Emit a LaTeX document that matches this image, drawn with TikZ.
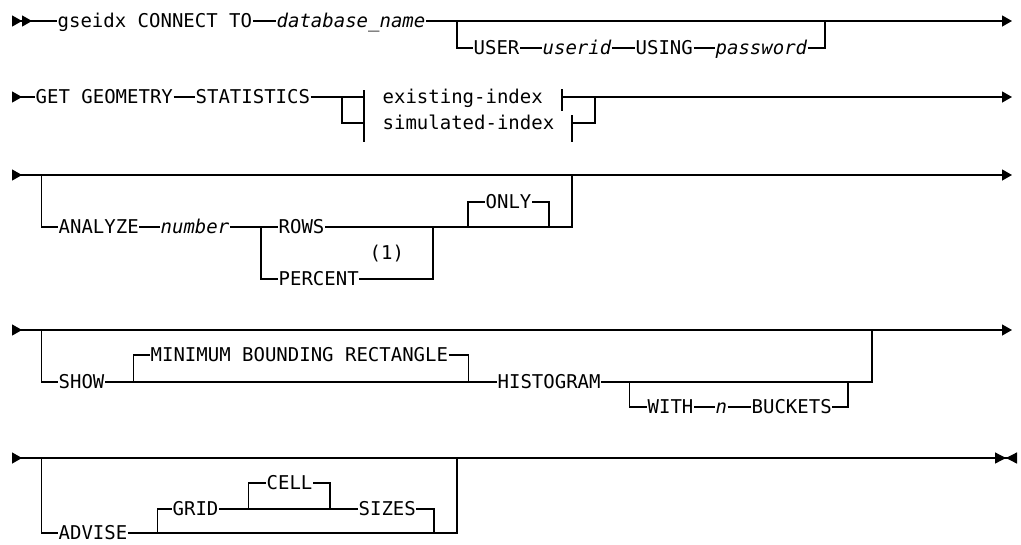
\documentclass[tikz,border=0pt]{standalone}
\usepackage{fontspec}
\setmonofont{DejaVu Sans Mono}
\usetikzlibrary{arrows.meta}

\begin{document}
\begin{tikzpicture}[x=1pt,y=-1pt,line width=1.3pt,
	kw/.style={anchor=west,inner sep=0,text height=13.9pt,text depth=0pt,font=\ttfamily\fontsize{19}{22}\selectfont},
	var/.style={kw,font=\ttfamily\itshape\fontsize{19}{22}\selectfont},
	goon/.style={-{Triangle[length=10pt,width=11pt]}},
	leadone/.style={{Triangle[reversed,length=10pt,width=11pt]}-},
	leadtwo/.style={{Triangle[reversed,length=10pt,width=11pt]Triangle[reversed,length=10pt,width=11pt]}-},
	through/.style={{Triangle[reversed,length=10pt,width=11pt]}-{Triangle[length=10pt,width=11pt]}},
	closing/.style={{Triangle[reversed,length=10pt,width=11pt]}-{Triangle[length=11pt,width=11pt]Triangle[reversed,length=11pt,width=11pt]}}]
	\useasboundingbox (0,0) rectangle (1021,544);
	% row 1
	\node[kw] (gs) at (57,21) {gseidx CONNECT TO};
	\node[var] (db) at (276,21) {database\_name};
	\node[kw] (user) at (473,48) {USER};
	\node[var] (uid) at (542,48) {userid};
	\node[kw] (using) at (635,48) {USING};
	\node[var] (pw) at (715,48) {password};
	\coordinate (b1) at (12,21);
	\coordinate (s1) at (457,21);
	\coordinate (j1) at (825,21);
	\coordinate (e1) at (1012,21);
	\draw[leadtwo] (b1) -- (gs.west);
	\draw (gs.east) -- (db.west);
	\draw[goon] (db.east) -- (e1);
	\draw (s1) |- (user.west);
	\draw (user.east) -- (uid.west);
	\draw (uid.east) -- (using.west);
	\draw (using.east) -- (pw.west);
	\draw (pw.east) -| (j1);
	% row 2
	\node[kw] (get) at (35,97) {GET GEOMETRY};
	\node[kw] (stat) at (195,97) {STATISTICS};
	\node[kw] (ex) at (382,97) {existing-index};
	\node[kw] (sim) at (382,123) {simulated-index};
	\coordinate (b2) at (12,97);
	\coordinate (s2) at (342,97);
	\coordinate (fa) at (364,90);
	\coordinate (fb) at (364,142);
	\coordinate (ga) at (562,89);
	\coordinate (gb) at (562,111);
	\coordinate (ha) at (572,115);
	\coordinate (hb) at (572,142);
	\coordinate (j2) at (595,97);
	\coordinate (e2) at (1012,97);
	\draw[leadone] (b2) -- (get.west);
	\draw (get.east) -- (stat.west);
	\draw (stat.east) -- (stat.east -| fa);
	\draw (s2) |- (sim.west -| fa);
	\draw (fa) -- (fb);
	\draw (ga) -- (gb);
	\draw (ha) -- (hb);
	\draw[goon] (ex.east -| ga) -- (e2);
	\draw (sim.east -| ha) -| (j2);
	% row 3
	\node[kw] (ana) at (58,227) {ANALYZE};
	\node[var] (num) at (160,227) {number};
	\node[kw] (rows) at (278,227) {ROWS};
	\node[kw] (pct) at (278,279) {PERCENT};
	\node[kw] (fn) at (369,253) {(1)};
	\node[kw] (only) at (485,202) {ONLY};
	\coordinate (b3) at (12,175);
	\coordinate (d3) at (41.5,175);
	\coordinate (s3) at (261,227);
	\coordinate (j3) at (433,227);
	\coordinate (s3b) at (468,227);
	\coordinate (j3b) at (549,227);
	\coordinate (j3c) at (572,175);
	\coordinate (e3) at (1012,175);
	\draw[through] (b3) -- (e3);
	\draw (d3) |- (ana.west);
	\draw (ana.east) -- (num.west);
	\draw (num.east) -- (rows.west);
	\draw (rows.east) -| (j3c);
	\draw (s3) |- (pct.west);
	\draw (pct.east) -| (j3);
	\draw (s3b) |- (only.west);
	\draw (only.east) -| (j3b);
	% row 4
	\node[kw] (show) at (58,382) {SHOW};
	\node[kw] (mbr) at (150,355) {MINIMUM BOUNDING RECTANGLE};
	\node[kw] (hist) at (497,382) {HISTOGRAM};
	\node[kw] (with) at (647,407) {WITH};
	\node[var] (n) at (715,407) {n};
	\node[kw] (bkt) at (751,407) {BUCKETS};
	\coordinate (b4) at (12,330);
	\coordinate (d4) at (41.5,330);
	\coordinate (s4) at (133.5,382);
	\coordinate (j4) at (468.5,382);
	\coordinate (s4b) at (629.5,382);
	\coordinate (j4b) at (848,382);
	\coordinate (j4c) at (872,330);
	\coordinate (e4) at (1012,330);
	\draw[through] (b4) -- (e4);
	\draw (d4) |- (show.west);
	\draw (show.east) -- (hist.west);
	\draw (s4) |- (mbr.west);
	\draw (mbr.east) -| (j4);
	\draw (hist.east) -| (j4c);
	\draw (s4b) |- (with.west);
	\draw (with.east) -- (n.west);
	\draw (n.east) -- (bkt.west);
	\draw (bkt.east) -| (j4b);
	% row 5
	\node[kw] (adv) at (58,533) {ADVISE};
	\node[kw] (grid) at (172,509) {GRID};
	\node[kw] (cell) at (266,483) {CELL};
	\node[kw] (sizes) at (358,509) {SIZES};
	\coordinate (b5) at (12,458);
	\coordinate (d5) at (41.5,458);
	\coordinate (s5) at (157.5,533);
	\coordinate (s5b) at (248.5,509);
	\coordinate (j5b) at (330,509);
	\coordinate (j5) at (434,533);
	\coordinate (j5c) at (457,458);
	\coordinate (e5) at (1017,458);
	\draw[closing] (b5) -- (e5);
	\draw (d5) |- (adv.west);
	\draw (adv.east) -| (j5c);
	\draw (s5) |- (grid.west);
	\draw (grid.east) -- (sizes.west);
	\draw (s5b) |- (cell.west);
	\draw (cell.east) -| (j5b);
	\draw (sizes.east) -| (j5);
\end{tikzpicture}
\end{document}
